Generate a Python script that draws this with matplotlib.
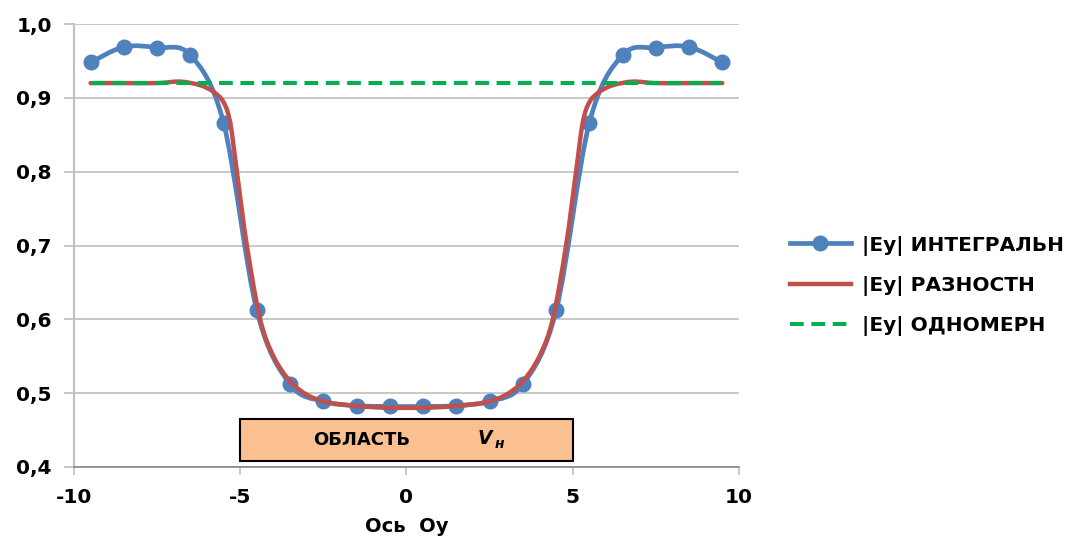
import numpy as np
import matplotlib
matplotlib.use("Agg")
import matplotlib.pyplot as plt
from matplotlib.path import Path
from matplotlib.patches import PathPatch, Rectangle
from matplotlib.lines import Line2D

# ---- data ----
x_int = [-9.5, -8.5, -7.5, -6.5, -5.5, -4.5, -3.5, -2.5, -1.5, -0.5,
         0.5, 1.5, 2.5, 3.5, 4.5, 5.5, 6.5, 7.5, 8.5, 9.5]
y_int = [0.948, 0.969, 0.968, 0.958, 0.866, 0.612, 0.512, 0.489, 0.483, 0.482,
         0.482, 0.483, 0.489, 0.512, 0.612, 0.866, 0.958, 0.968, 0.969, 0.948]

x_diff = [-9.5, -8.5, -7.5, -6.8, -6.2, -5.8, -5.5, -5.3, -5.1, -4.8, -4.4,
          -4.0, -3.5, -3.0, -2.5, -2.0, -1.0, 0.0,
          1.0, 2.0, 2.5, 3.0, 3.5, 4.0, 4.4, 4.8, 5.1, 5.3, 5.5,
          5.8, 6.2, 6.8, 7.5, 8.5, 9.5]
y_diff = [0.920, 0.920, 0.920, 0.922, 0.917, 0.908, 0.894, 0.866, 0.800, 0.700, 0.600,
          0.550, 0.516, 0.498, 0.489, 0.485, 0.481, 0.480,
          0.481, 0.485, 0.489, 0.498, 0.516, 0.550, 0.600, 0.700, 0.800, 0.866, 0.894,
          0.908, 0.917, 0.922, 0.920, 0.920, 0.920]

x_1d = [-9.5, 9.5]
y_1d = [0.92, 0.92]

labels = ["|Ey| ИНТЕГРАЛЬН", "|Ey| РАЗНОСТН", "|Ey| ОДНОМЕРН"]
xticks = [-10, -5, 0, 5, 10]
yticks = [0.4, 0.5, 0.6, 0.7, 0.8, 0.9, 1.0]
region_x = [-5.0, 5.0]
region_y = [0.408, 0.465]

BLUE = "#4F81BD"
RED = "#C0504D"
GREEN = "#00B050"
DASH = (0, (3.4, 1.9))


def smooth_path(xs, ys, t=1.0 / 6.0):
    xs = np.asarray(xs, float)
    ys = np.asarray(ys, float)
    pts = np.column_stack([xs, ys])
    n = len(pts)
    verts = [pts[0]]
    codes = [Path.MOVETO]
    for i in range(n - 1):
        p0 = pts[i - 1] if i > 0 else pts[i]
        p1 = pts[i]
        p2 = pts[i + 1]
        p3 = pts[i + 2] if i + 2 < n else pts[i + 1]
        c1 = p1 + (p2 - p0) * t
        c2 = p2 - (p3 - p1) * t
        verts += [c1, c2, p2]
        codes += [Path.CURVE4] * 3
    return Path(verts, codes)


fig = plt.figure(figsize=(10.75, 5.41), dpi=100)
ax = fig.add_axes([0.0688, 0.1368, 0.6186, 0.8188])
ax.set_xlim(-10, 10)
ax.set_ylim(0.4, 1.0)

ax.set_yticks(yticks)
ax.set_yticklabels([f"{v:.1f}".replace(".", ",") for v in yticks])
ax.set_xticks(xticks)
ax.set_xticklabels([str(v) for v in xticks])
ax.grid(axis="y", color="#BFBFBF", linewidth=1.2)
ax.set_axisbelow(True)
for s in ["top", "right"]:
    ax.spines[s].set_visible(False)
ax.spines["left"].set_color("#BFBFBF")
ax.spines["left"].set_linewidth(1.5)
ax.spines["bottom"].set_color("#868686")
ax.spines["bottom"].set_linewidth(1.2)
ax.tick_params(axis="y", length=7, width=1.2, color="#BFBFBF", direction="out", pad=9)
ax.tick_params(axis="x", length=6, width=1.2, color="#BFBFBF", direction="out", pad=9)
for lab in ax.get_xticklabels() + ax.get_yticklabels():
    lab.set_fontweight("bold")
    lab.set_fontsize(14.5)

ax.set_xlabel("Ось  Оу", fontsize=14, fontweight="bold", labelpad=7)

# region box
ax.add_patch(Rectangle((region_x[0], region_y[0]), region_x[1] - region_x[0],
                       region_y[1] - region_y[0], facecolor="#FAC090",
                       edgecolor="black", linewidth=1.5, zorder=2))
ax.text(-1.34, 0.4365, "ОБЛАСТЬ", ha="center", va="center", fontsize=13,
        fontweight="bold", zorder=3)
ax.text(2.15, 0.4385, "V", ha="left", va="center", fontsize=13.5,
        fontweight="bold", style="italic", zorder=3)
ax.text(2.65, 0.431, "н", ha="left", va="center", fontsize=10,
        fontweight="bold", style="italic", zorder=3)

# blue smoothed line + markers
ax.add_patch(PathPatch(smooth_path(x_int, y_int), facecolor="none",
                       edgecolor=BLUE, linewidth=3.4, zorder=4, capstyle="round"))
ax.plot(x_int, y_int, linestyle="none", marker="o", markersize=10.5,
        color=BLUE, zorder=5)
# red smoothed line
ax.add_patch(PathPatch(smooth_path(x_diff, y_diff), facecolor="none",
                       edgecolor=RED, linewidth=3.2, zorder=6, capstyle="round"))
# green dashed
ax.plot(x_1d, y_1d, color=GREEN, linewidth=2.9, linestyle=DASH, zorder=7)

handles = [
    Line2D([], [], color=BLUE, linewidth=3.4, marker="o", markersize=10.5),
    Line2D([], [], color=RED, linewidth=3.2),
    Line2D([], [], color=GREEN, linewidth=2.9, linestyle=DASH),
]
leg = fig.legend(handles, labels, loc="center left", bbox_to_anchor=(0.735, 0.472),
                 frameon=False, handlelength=3.0, labelspacing=1.0,
                 prop={"weight": "bold", "size": 14.5}, handletextpad=0.55,
                 borderaxespad=0, borderpad=0)

fig.savefig("out.png", dpi=100)
